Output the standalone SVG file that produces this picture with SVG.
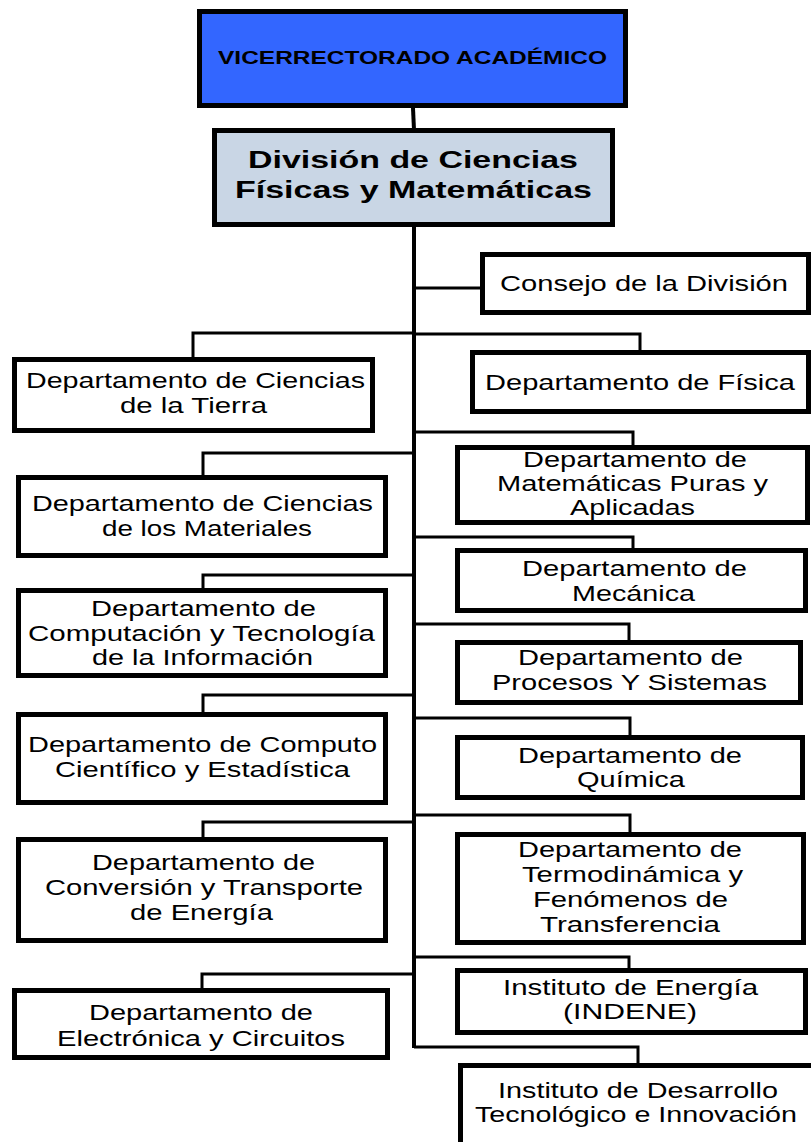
<svg xmlns="http://www.w3.org/2000/svg" width="811" height="1142" viewBox="0 0 811 1142">
<style>
rect.box{fill:#fff;stroke:#000;stroke-width:5}
#vice rect{fill:#3366FF}
#division rect{fill:#C9D6E5}
text{font-family:"Liberation Sans",Arial,sans-serif;font-size:22px;text-anchor:middle;fill:#000}
text.b{font-weight:bold}
#connectors polyline,#connectors line{fill:none;stroke:#000;stroke-width:3;stroke-linejoin:miter}
</style>
<rect width="811" height="1142" fill="#fff"/>
<g id="connectors">
<line x1="413" y1="108" x2="414" y2="130" style="stroke-width:4"/>
<line x1="414" y1="227" x2="414" y2="1048" style="stroke-width:4"/>
<polyline points="414,288 482,288"/>
<polyline points="414,333 193,333 193,359"/>
<polyline points="414,334 640,334 640,352"/>
<polyline points="414,432 633,432 633,447"/>
<polyline points="414,453 203,453 203,477"/>
<polyline points="414,537 633,537 633,550"/>
<polyline points="414,575 203,575 203,590"/>
<polyline points="414,624 629,624 629,642"/>
<polyline points="414,695 203,695 203,714"/>
<polyline points="414,718 630,718 630,737"/>
<polyline points="414,815 630,815 630,834"/>
<polyline points="414,822 203,822 203,839"/>
<polyline points="414,957 629,957 629,970"/>
<polyline points="414,974 202,974 202,990"/>
<polyline points="414,1047 638,1047 638,1065"/>
</g>
<g id="vice">
<rect class="box" x="199.5" y="11.5" width="426" height="94"/>
<text class="b" x="412.5" y="64" style="font-size:19px" textLength="389" lengthAdjust="spacingAndGlyphs">VICERRECTORADO ACADÉMICO</text>
</g>
<g id="division">
<rect class="box" x="214.5" y="130.5" width="398" height="94"/>
<text class="b" x="413" y="168" style="font-size:23px" textLength="330" lengthAdjust="spacingAndGlyphs">División de Ciencias</text>
<text class="b" x="413.5" y="198" style="font-size:23px" textLength="357" lengthAdjust="spacingAndGlyphs">Físicas y Matemáticas</text>
</g>
<g id="consejo">
<rect class="box" x="482.5" y="254.5" width="326" height="58"/>
<text x="644" y="291" textLength="288" lengthAdjust="spacingAndGlyphs">Consejo de la División</text>
</g>
<g id="tierra">
<rect class="box" x="14.5" y="359.5" width="358" height="71"/>
<text x="195.5" y="388" textLength="339" lengthAdjust="spacingAndGlyphs">Departamento de Ciencias</text>
<text x="193.5" y="413" textLength="147" lengthAdjust="spacingAndGlyphs">de la Tierra</text>
</g>
<g id="fisica">
<rect class="box" x="472.5" y="352.5" width="336" height="59"/>
<text x="640" y="390" textLength="310" lengthAdjust="spacingAndGlyphs">Departamento de Física</text>
</g>
<g id="matematicas">
<rect class="box" x="457.5" y="447.5" width="350" height="75"/>
<text x="635" y="467" textLength="224" lengthAdjust="spacingAndGlyphs">Departamento de</text>
<text x="632.5" y="491" textLength="271" lengthAdjust="spacingAndGlyphs">Matemáticas Puras y</text>
<text x="632.5" y="515" textLength="125" lengthAdjust="spacingAndGlyphs">Aplicadas</text>
</g>
<g id="materiales">
<rect class="box" x="18.5" y="477.5" width="367" height="78"/>
<text x="202.5" y="511" textLength="341" lengthAdjust="spacingAndGlyphs">Departamento de Ciencias</text>
<text x="207" y="536" textLength="210" lengthAdjust="spacingAndGlyphs">de los Materiales</text>
</g>
<g id="mecanica">
<rect class="box" x="457.5" y="550.5" width="348" height="60"/>
<text x="634.5" y="576" textLength="225" lengthAdjust="spacingAndGlyphs">Departamento de</text>
<text x="633.5" y="601" textLength="123" lengthAdjust="spacingAndGlyphs">Mecánica</text>
</g>
<g id="computacion">
<rect class="box" x="18.5" y="590.5" width="367" height="85"/>
<text x="203.5" y="616" textLength="225" lengthAdjust="spacingAndGlyphs">Departamento de</text>
<text x="201.5" y="641" textLength="347" lengthAdjust="spacingAndGlyphs">Computación y Tecnología</text>
<text x="202.5" y="665" textLength="221" lengthAdjust="spacingAndGlyphs">de la Información</text>
</g>
<g id="procesos">
<rect class="box" x="457.5" y="642.5" width="343" height="60"/>
<text x="630.5" y="665" textLength="225" lengthAdjust="spacingAndGlyphs">Departamento de</text>
<text x="629.5" y="690" textLength="275" lengthAdjust="spacingAndGlyphs">Procesos Y Sistemas</text>
</g>
<g id="computo">
<rect class="box" x="18.5" y="714.5" width="367" height="88"/>
<text x="202.5" y="752" textLength="349" lengthAdjust="spacingAndGlyphs">Departamento de Computo</text>
<text x="202.5" y="777" textLength="295" lengthAdjust="spacingAndGlyphs">Científico y Estadística</text>
</g>
<g id="quimica">
<rect class="box" x="457.5" y="737.5" width="345" height="60"/>
<text x="630" y="763" textLength="224" lengthAdjust="spacingAndGlyphs">Departamento de</text>
<text x="631" y="787" textLength="108" lengthAdjust="spacingAndGlyphs">Química</text>
</g>
<g id="conversion">
<rect class="box" x="18.5" y="839.5" width="367" height="101"/>
<text x="203.5" y="870" textLength="223" lengthAdjust="spacingAndGlyphs">Departamento de</text>
<text x="204" y="895" textLength="318" lengthAdjust="spacingAndGlyphs">Conversión y Transporte</text>
<text x="201.5" y="920" textLength="143" lengthAdjust="spacingAndGlyphs">de Energía</text>
</g>
<g id="termodinamica">
<rect class="box" x="457.5" y="834.5" width="346" height="108"/>
<text x="630" y="857" textLength="224" lengthAdjust="spacingAndGlyphs">Departamento de</text>
<text x="632.5" y="882" textLength="221" lengthAdjust="spacingAndGlyphs">Termodinámica y</text>
<text x="630.5" y="907" textLength="195" lengthAdjust="spacingAndGlyphs">Fenómenos de</text>
<text x="630" y="932" textLength="180" lengthAdjust="spacingAndGlyphs">Transferencia</text>
</g>
<g id="energia">
<rect class="box" x="457.5" y="970.5" width="348" height="62"/>
<text x="630.5" y="995" textLength="255" lengthAdjust="spacingAndGlyphs">Instituto de Energía</text>
<text x="630" y="1019" textLength="134" lengthAdjust="spacingAndGlyphs">(INDENE)</text>
</g>
<g id="electronica">
<rect class="box" x="14.5" y="990.5" width="373" height="67"/>
<text x="201" y="1020" textLength="224" lengthAdjust="spacingAndGlyphs">Departamento de</text>
<text x="201" y="1046" textLength="288" lengthAdjust="spacingAndGlyphs">Electrónica y Circuitos</text>
</g>
<g id="desarrollo">
<rect class="box" x="460.5" y="1065.5" width="360" height="100"/>
<text x="638" y="1098" textLength="280" lengthAdjust="spacingAndGlyphs">Instituto de Desarrollo</text>
<text x="636" y="1122" textLength="322" lengthAdjust="spacingAndGlyphs">Tecnológico e Innovación</text>
</g>
</svg>
